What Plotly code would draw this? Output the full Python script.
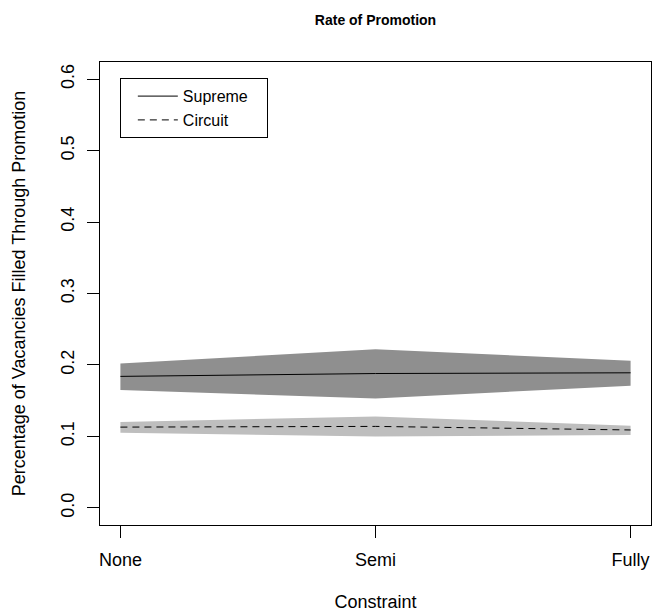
import plotly.graph_objects as go

# Rate of promotion by degree of constraint, with uncertainty bands
constraint = ["None", "Semi", "Fully"]

supreme_mean = [0.184, 0.188, 0.189]
supreme_lo = [0.165, 0.153, 0.171]
supreme_hi = [0.202, 0.222, 0.206]

circuit_mean = [0.113, 0.114, 0.109]
circuit_lo = [0.105, 0.100, 0.102]
circuit_hi = [0.120, 0.128, 0.115]

y_ticks = [0.0, 0.1, 0.2, 0.3, 0.4, 0.5, 0.6]

FONT = "Liberation Sans, Arial, Helvetica, sans-serif"
PAD = "\u00a0" * 3  # right-hand padding inside the legend box

fig = go.Figure()


def add_band(lo, hi, color):
    fig.add_trace(go.Scatter(x=constraint, y=lo, mode="lines",
                             line=dict(width=0, color=color),
                             showlegend=False, hoverinfo="skip"))
    fig.add_trace(go.Scatter(x=constraint, y=hi, mode="lines",
                             line=dict(width=0, color=color),
                             fill="tonexty", fillcolor=color,
                             showlegend=False, hoverinfo="skip"))


add_band(supreme_lo, supreme_hi, "#8f8f8f")
add_band(circuit_lo, circuit_hi, "#bebebe")

fig.add_trace(go.Scatter(x=constraint, y=supreme_mean, mode="lines",
                         name="Supreme" + PAD,
                         line=dict(color="black", width=1)))
fig.add_trace(go.Scatter(x=constraint, y=circuit_mean, mode="lines",
                         name="Circuit",
                         line=dict(color="black", width=1, dash="7px,5px")))

fig.update_layout(
    width=652, height=615,
    margin=dict(l=100, r=1, t=62, b=90),
    paper_bgcolor="white", plot_bgcolor="white",
    font=dict(family=FONT, size=18, color="black"),
    title=dict(text="<b>Rate of Promotion</b>", x=(100 + 651) / 2 / 652,
               xanchor="center", y=1 - 20 / 615, yanchor="middle",
               font=dict(size=14)),
    showlegend=True,
    legend=dict(x=0.036, y=0.965, xanchor="left", yanchor="top",
                traceorder="normal",
                bordercolor="black", borderwidth=1, bgcolor="white",
                font=dict(size=16), indentation=12, itemwidth=40,
                tracegroupgap=0),
)

fig.update_xaxes(
    type="category", range=[-0.08, 2.08],
    showline=True, linecolor="black", linewidth=1, mirror=True,
    ticks="outside", ticklen=12, tickcolor="black", tickwidth=1,
    showgrid=False, zeroline=False, ticklabelstandoff=6,
    title=dict(text="Constraint", standoff=26, font=dict(size=18)),
)
fig.update_yaxes(
    range=[-0.024, 0.624], tickvals=y_ticks,
    ticktext=[f"{v:.1f}" for v in y_ticks], tickangle=-90,
    showline=True, linecolor="black", linewidth=1, mirror=True,
    ticks="outside", ticklen=12, tickcolor="black", tickwidth=1,
    showgrid=False, zeroline=False, ticklabelstandoff=6,
    title=dict(text="Percentage of Vacancies Filled Through Promotion",
               standoff=27, font=dict(size=18)),
)

fig.write_html("out.html")
